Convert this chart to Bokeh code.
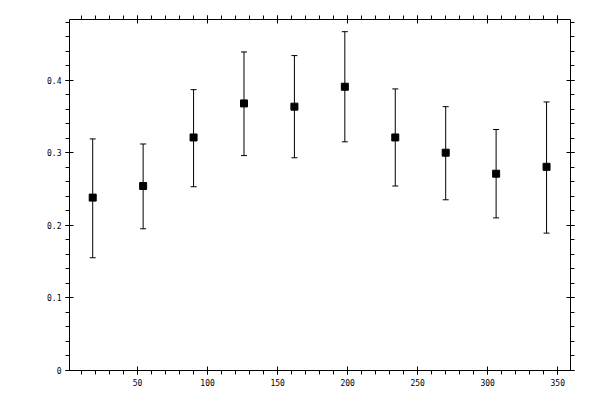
from bokeh.plotting import figure
from bokeh.models import (ColumnDataSource, Whisker, TeeHead, Range1d, LinearAxis,
                          SingleIntervalTicker, CustomJSTickFormatter)
from bokeh.embed import file_html
from bokeh.resources import INLINE

# data
angle = [18, 54, 90, 126, 162, 198, 234, 270, 306, 342]
value = [0.238, 0.254, 0.321, 0.368, 0.3635, 0.391, 0.321, 0.300, 0.271, 0.2805]
upper = [0.319, 0.312, 0.387, 0.439, 0.434, 0.467, 0.388, 0.3635, 0.332, 0.370]
lower = [0.155, 0.195, 0.253, 0.296, 0.293, 0.315, 0.254, 0.235, 0.210, 0.189]
y_overrides = {0: "0"}

src = ColumnDataSource(dict(x=angle, y=value, upper=upper, lower=lower))

p = figure(width=592, height=392, output_backend="svg", toolbar_location=None,
           x_range=Range1d(1.43, 359.1), y_range=Range1d(-0.0006, 0.4838),
           min_border_left=69, min_border_right=22, min_border_top=19,
           min_border_bottom=22, x_axis_location=None, y_axis_location=None)
p.outline_line_color = None
p.background_fill_color = "white"
p.border_fill_color = "white"
p.xgrid.visible = False
p.ygrid.visible = False

FONT = "DejaVu Sans Mono"

def style(ax, labels):
    ax.axis_line_color = "black"
    ax.axis_line_width = 1
    ax.major_tick_line_color = "black"
    ax.minor_tick_line_color = "black"
    ax.major_tick_in = 4
    ax.major_tick_out = 4
    ax.minor_tick_in = 0
    ax.minor_tick_out = 4
    ax.major_label_text_font = FONT
    ax.major_label_text_font_size = "8px"
    ax.major_label_text_color = "black"
    ax.major_label_standoff = 4
    if not labels:
        ax.formatter = CustomJSTickFormatter(code="return ''")
        ax.major_label_standoff = 0

xt = lambda: SingleIntervalTicker(interval=50, num_minor_ticks=5)
yt = lambda: SingleIntervalTicker(interval=0.1, num_minor_ticks=5)

bx = LinearAxis(ticker=xt()); style(bx, True)
tx = LinearAxis(ticker=xt()); style(tx, False)
ly = LinearAxis(ticker=yt(), major_label_overrides=y_overrides); style(ly, True)
ry = LinearAxis(ticker=yt()); style(ry, False)
p.add_layout(bx, "below")
p.add_layout(tx, "above")
p.add_layout(ly, "left")
p.add_layout(ry, "right")

w = Whisker(source=src, base="x", upper="upper", lower="lower",
            line_color="black", line_width=1,
            upper_head=TeeHead(size=6, line_color="black", line_width=1),
            lower_head=TeeHead(size=6, line_color="black", line_width=1))
p.add_layout(w)
p.scatter("x", "y", source=src, marker="square", size=7, color="black")

open("out.html", "w").write(file_html(p, INLINE))
